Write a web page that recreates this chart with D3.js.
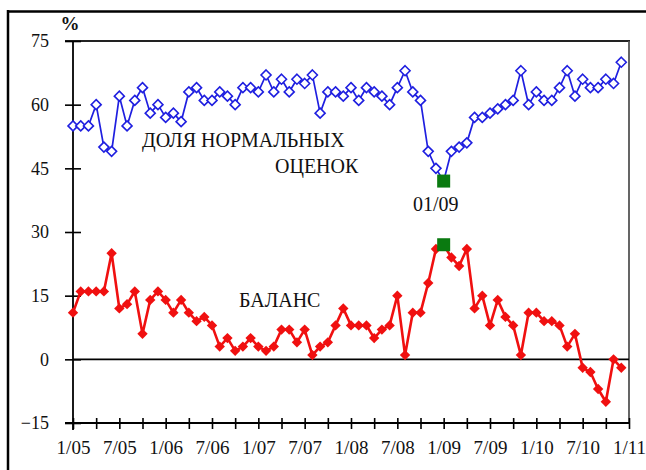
<!DOCTYPE html>
<html><head><meta charset="utf-8">
<script src="https://cdn.jsdelivr.net/npm/d3@7"></script>
<style>
html,body{margin:0;padding:0;background:#fff;}
text{font-family:"Liberation Serif","Times New Roman",serif;fill:#111;}
</style></head>
<body>
<svg id="chart" width="646" height="470"></svg>
<script>
// Monthly data, 1/05 .. 12/10 (72 months)
const normalShare = [55,55,55,60,50,49,62,55,61,64, 58,60,57,58,56,63,64,61,61,63,
  62,60,64,64,63,67,63,66,63,66, 65,67,58,63,63,62,64,61,64,63,
  62,60,64,68,63,61,49,45,42,49, 50,51,57,57,58,59,60,61,68,60,
  63,61,61,64,68,62,66,64,64,66, 65,70];
const balance = [11,16,16,16,16,25,12,13,16,6, 14,16,14,11,14,11,9,10,8,3,
  5,2,3,5,3,2,3,7,7,4, 7,1,3,4,8,12,8,8,8,5,
  7,8,15,1,11,11,18,26,27,24, 22,26,12,15,8,14,10,8,1,11,
  11,9,9,8,3,6,-2,-3,-7,-10, 0,-2];
const highlightIndex = 48; // 01/09
const highlightLabel = "01/09";
const xTickLabels = ["1/05","7/05","1/06","7/06","1/07","7/07","1/08","7/08","1/09","7/09","1/10","7/10","1/11"];
const yTickValues = [-15,0,15,30,45,60,75];
const seriesLabels = ["ДОЛЯ НОРМАЛЬНЫХ","ОЦЕНОК","БАЛАНС"];
const unitLabel = "%";

const FONT = '"Liberation Serif","Times New Roman",serif';
const svg = d3.select("#chart");
const L = 73, R = 629, T = 41, B = 423;
const x = d3.scaleLinear().domain([0, 72]).range([L, R]);
const y = d3.scaleLinear().domain([-15, 75]).range([B, T]);

// outer frame (left and top)
svg.append("line").attr("x1",8).attr("x2",8).attr("y1",10).attr("y2",470).attr("stroke","#000").attr("stroke-width",2.5);
svg.append("line").attr("x1",7).attr("x2",646).attr("y1",11.5).attr("y2",11.5).attr("stroke","#000").attr("stroke-width",2.5);

// plot box top and right
svg.append("line").attr("x1",65).attr("x2",R+1).attr("y1",y(75)).attr("y2",y(75)).attr("stroke","#222").attr("stroke-width",1.8);
svg.append("line").attr("x1",R).attr("x2",R).attr("y1",y(75)).attr("y2",B).attr("stroke","#555").attr("stroke-width",1.8);
// zero line
svg.append("line").attr("x1",L).attr("x2",R).attr("y1",y(0)).attr("y2",y(0)).attr("stroke","#000").attr("stroke-width",1.6);

// y axis
const yAxis = d3.axisLeft(y).tickValues(yTickValues).tickSize(8).tickFormat(d3.format("d"));
const gy = svg.append("g").attr("transform",`translate(${L},0)`).call(yAxis).attr("font-family",FONT);
gy.select(".domain").attr("stroke","#000").attr("stroke-width",1.8).attr("d",`M0,${T}V${B+7}`);
gy.selectAll(".tick line").attr("x1",-8).attr("x2",8).attr("stroke","#000").attr("stroke-width",1.6);
gy.selectAll(".tick text").attr("x",-24).attr("font-size",18).attr("fill","#111").attr("font-family",FONT);

// x axis
const xTicks = d3.range(0, 73, 3);
const xAxis = d3.axisBottom(x).tickValues(xTicks).tickSize(5)
  .tickFormat(d => d % 6 === 0 ? xTickLabels[d/6] : "");
const gx = svg.append("g").attr("transform",`translate(0,${B})`).call(xAxis).attr("font-family",FONT);
gx.select(".domain").attr("stroke","#000").attr("stroke-width",1.8).attr("d",`M65,0H${R}`);
gx.selectAll(".tick line").attr("y1",-5).attr("y2",6).attr("stroke","#000").attr("stroke-width",1.6);
gx.selectAll(".tick text").attr("y",18).attr("font-size",19).attr("fill","#111").attr("font-family",FONT);

// unit label
svg.append("text").attr("x",70).attr("y",30).attr("text-anchor","middle").attr("font-size",19).attr("font-weight","bold").attr("font-family",FONT).text(unitLabel);

function diamondPath(r){ return `M0,${-r}L${r},0L0,${r}L${-r},0Z`; }

// blue series
const lineGen = d3.line().x((d,i)=>x(i)).y(d=>y(d));
svg.append("path").datum(normalShare).attr("d",lineGen).attr("fill","none").attr("stroke","#1f1fe0").attr("stroke-width",1.7);
svg.append("g").selectAll("path").data(normalShare.map((v,i)=>({v,i})).filter(d=>d.i!==highlightIndex))
  .join("path").attr("d",diamondPath(5)).attr("transform",d=>`translate(${x(d.i)},${y(d.v)})`)
  .attr("fill","#fff").attr("stroke","#1f1fe0").attr("stroke-width",1.6);

// red series
svg.append("path").datum(balance).attr("d",lineGen).attr("fill","none").attr("stroke","#f01010").attr("stroke-width",2.6);
svg.append("g").selectAll("path").data(balance.map((v,i)=>({v,i})).filter(d=>d.i!==highlightIndex))
  .join("path").attr("d",diamondPath(5.2)).attr("transform",d=>`translate(${x(d.i)},${y(d.v)})`)
  .attr("fill","#f01010").attr("stroke","none");

// highlight squares
[normalShare, balance].forEach(s=>{
  svg.append("rect").attr("x",x(highlightIndex)-6.5).attr("y",y(s[highlightIndex])-6.5)
    .attr("width",13).attr("height",13).attr("fill","#0a7a10");
});

// annotations
const ann = svg.append("g").attr("font-family",FONT).attr("font-size",20);
ann.append("text").attr("x",142).attr("y",147).text(seriesLabels[0]);
ann.append("text").attr("x",275).attr("y",173).text(seriesLabels[1]);
ann.append("text").attr("x",x(highlightIndex)-8).attr("y",211).attr("text-anchor","middle").text(highlightLabel);
ann.append("text").attr("x",239).attr("y",307).text(seriesLabels[2]);
</script>
</body></html>
